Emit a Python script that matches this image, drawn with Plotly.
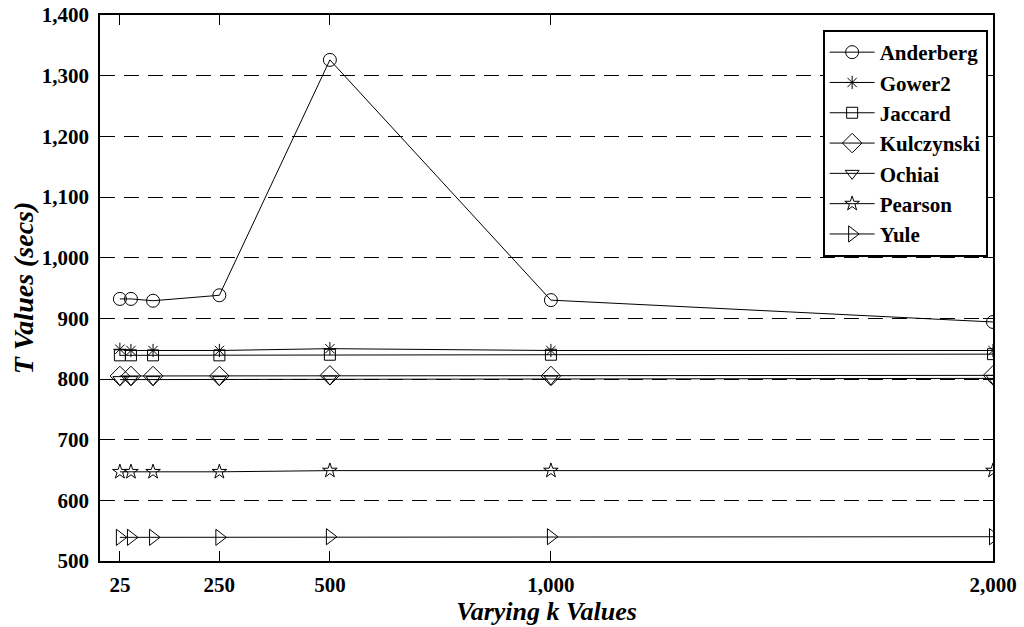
import plotly.graph_objects as go

k_values = [25, 50, 100, 250, 500, 1000, 2000]
x_tick_vals = [25, 250, 500, 1000, 2000]
x_tick_text = ["25", "250", "500", "1,000", "2,000"]

anderberg = [932, 932, 929, 938, 1326, 930, 894]
gower2 = [849, 847, 847, 847, 850, 847, 847]
jaccard = [839, 839, 839, 839, 840, 840, 841]
kulczynski = [805, 805, 805, 805, 806, 805, 806]
ochiai = [799, 799, 799, 799, 800, 800, 801]
pearson = [647, 647, 647, 647, 649, 649, 649]
yule = [539, 539, 539, 539, 540, 540, 540]

series = [
    ("Anderberg", anderberg, "circle-open", 13),
    ("Gower2", gower2, "asterisk-open", 11),
    ("Jaccard", jaccard, "square-open", 11),
    ("Kulczynski", kulczynski, "diamond-open", 15),
    ("Ochiai", ochiai, "triangle-down-open", 12),
    ("Pearson", pearson, "star-open", 11),
    ("Yule", yule, "triangle-right-open", 14),
]

FF = "Liberation Serif"

fig = go.Figure()
for name, vals, sym, size in series:
    fig.add_trace(go.Scatter(
        x=k_values, y=vals, name=name, mode="lines+markers",
        line=dict(color="black", width=1),
        marker=dict(symbol=sym, size=size, color="black", line=dict(color="black", width=1)),
    ))

fig.update_layout(
    template="none",
    width=1024, height=627,
    margin=dict(l=100, r=31, t=15, b=66),
    paper_bgcolor="white", plot_bgcolor="white",
    showlegend=True,
    legend=dict(
        x=0.994, y=0.9725, xanchor="right", yanchor="top",
        bordercolor="black", borderwidth=2, bgcolor="white",
        font=dict(family=FF, size=21, color="black", weight="bold"),
        tracegroupgap=0, itemwidth=45,
    ),
)

fig.update_xaxes(
    range=[-20, 2000],
    tickvals=x_tick_vals, ticktext=x_tick_text,
    ticks="inside", ticklen=10, tickcolor="black", tickwidth=1,
    ticklabelstandoff=4,
    showline=True, linecolor="black", linewidth=1.5, mirror="ticks",
    showgrid=False, zeroline=False,
    tickfont=dict(family=FF, size=21, color="black", weight="bold"),
    title=dict(text="Varying k Values", standoff=0,
               font=dict(family=FF, size=26, color="black", weight="bold", style="italic")),
)
fig.update_yaxes(
    range=[500, 1400], dtick=100, tickformat=",",
    ticks="inside", ticklen=10, tickcolor="black", tickwidth=1,
    ticklabelstandoff=5,
    showline=True, linecolor="black", linewidth=1.5, mirror="ticks",
    showgrid=True, gridcolor="black", gridwidth=1, griddash="15px,9px",
    zeroline=False,
    tickfont=dict(family=FF, size=21, color="black", weight="bold"),
    title=dict(text="T Values (secs)", standoff=0,
               font=dict(family=FF, size=28, color="black", weight="bold", style="italic")),
)

fig.write_html("out.html")
